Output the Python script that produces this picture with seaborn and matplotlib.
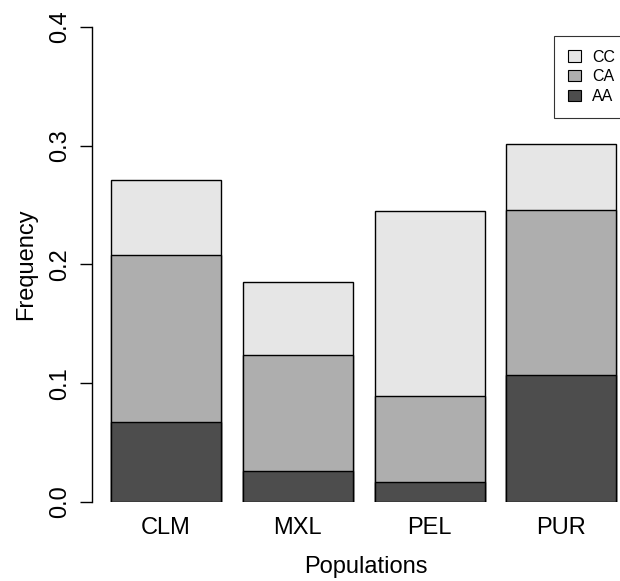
import matplotlib
matplotlib.use("Agg")
import matplotlib.pyplot as plt
import seaborn as sns
import numpy as np
import pandas as pd
from matplotlib.patches import Patch

populations = ["CLM", "MXL", "PEL", "PUR"]
freq_AA = [0.067, 0.026, 0.017, 0.107]
freq_CA = [0.141, 0.098, 0.072, 0.139]
freq_CC = [0.063, 0.061, 0.156, 0.055]
genotypes = ["CC", "CA", "AA"]
colors = {"CC": "#E6E6E6", "CA": "#AEAEAE", "AA": "#4D4D4D"}
y_ticks = [0.0, 0.1, 0.2, 0.3, 0.4]

sns.set_theme(style="white")
plt.rcParams["font.family"] = ["Liberation Sans", "DejaVu Sans"]
for k in ["text.color", "axes.labelcolor", "xtick.color", "ytick.color"]:
    plt.rcParams[k] = "black"

fig = plt.figure(figsize=(6.2, 5.81), dpi=100)
W, H = 620, 581
# axes: left pixel 92, right pixel 640 (beyond figure), y=0 at 502, y=0.4 at 26.7
ax = fig.add_axes([92 / W, (H - 502) / H, (640 - 92) / W, (502 - 26.7) / H])

aa = np.array(freq_AA)
ca = np.array(freq_CA)
cc = np.array(freq_CC)
df = pd.DataFrame({
    "Population": populations,
    "AA": aa,
    "CA_cum": aa + ca,
    "CC_cum": aa + ca + cc,
})

bar_w = 1 / 1.2
for col, g in [("CC_cum", "CC"), ("CA_cum", "CA"), ("AA", "AA")]:
    sns.barplot(data=df, x="Population", y=col, color=colors[g], saturation=1,
                width=bar_w, edgecolor="black", linewidth=1.0, errorbar=None, ax=ax)

unit = 131.8
x0 = (92 - 166) / unit
ax.set_xlim(x0, x0 + (640 - 92) / unit)
ax.set_ylim(0, 0.4)
ax.set_yticks(y_ticks)
ax.set_yticklabels([f"{t:.1f}" for t in y_ticks])

for s in ["top", "right", "bottom"]:
    ax.spines[s].set_visible(False)
ax.spines["left"].set_bounds(0, 0.4)
ax.spines["left"].set_color("black")
ax.spines["left"].set_linewidth(1.0)

ax.tick_params(axis="y", left=True, length=9, width=1.0, color="black",
               labelsize=17, labelrotation=90, pad=6)
for lab in ax.get_yticklabels():
    lab.set_va("center")
ax.tick_params(axis="x", bottom=False, length=0, labelsize=17, pad=11)

ax.set_xlabel("Populations", fontsize=17, labelpad=12)
ax.set_ylabel("Frequency", fontsize=17, labelpad=9)

handles = [Patch(facecolor=colors[g], edgecolor="black", linewidth=0.8) for g in genotypes]
leg = ax.legend(handles, genotypes, loc="upper left",
                bbox_to_anchor=(554 / W, 1 - 36 / H), bbox_transform=fig.transFigure,
                fontsize=11.5, frameon=True, fancybox=False, edgecolor="black",
                handlelength=0.85, handleheight=0.7, handletextpad=0.7,
                labelspacing=0.3, borderpad=0.85, borderaxespad=0)
leg.get_frame().set_linewidth(0.8)

fig.savefig("out.png", dpi=100)
